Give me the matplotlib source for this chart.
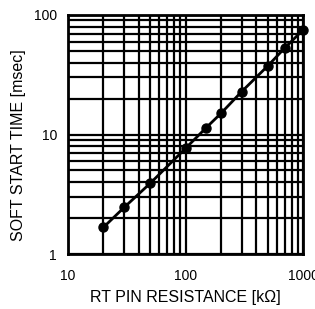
import numpy as np
import matplotlib
matplotlib.use('Agg')
import matplotlib.pyplot as plt
import matplotlib.ticker as ticker

plt.rcParams['font.family'] = ['Liberation Sans', 'DejaVu Sans']

# RT pin resistance [kOhm] vs soft start time [msec]
resistance = [20, 30, 50, 100, 150, 200, 300, 500, 700, 1000]
ss_time = [1.67, 2.45, 3.9, 7.65, 11.4, 15.0, 22.8, 37.4, 53.0, 75.0]

fig = plt.figure(figsize=(3.15, 3.09), dpi=100)
ax = fig.add_axes([68/315, 55/309, 235/315, 239/309])

ax.plot(resistance, ss_time, color='black', lw=2.0, marker='o', ms=6.5, clip_on=False, zorder=5)

ax.set_xscale('log')
ax.set_yscale('log')
ax.set_xlim(10, 1000)
ax.set_ylim(1, 100)

ax.xaxis.set_major_locator(ticker.FixedLocator([10, 100, 1000]))
ax.xaxis.set_major_formatter(ticker.FixedFormatter(['10', '100', '1000']))
ax.yaxis.set_major_locator(ticker.FixedLocator([1, 10, 100]))
ax.yaxis.set_major_formatter(ticker.FixedFormatter(['1', '10', '100']))
ax.xaxis.set_minor_locator(ticker.LogLocator(base=10, subs=np.arange(2, 10)))
ax.yaxis.set_minor_locator(ticker.LogLocator(base=10, subs=np.arange(2, 10)))
ax.xaxis.set_minor_formatter(ticker.NullFormatter())
ax.yaxis.set_minor_formatter(ticker.NullFormatter())

ax.grid(True, which='both', color='black', lw=1.6)
ax.tick_params(which='both', length=0, labelsize=10)
ax.tick_params(axis='x', pad=11)
ax.tick_params(axis='y', pad=8)
for s in ax.spines.values():
    s.set_linewidth(2.0)

ax.set_xlabel('RT PIN RESISTANCE [k\u03a9]', fontsize=11.5, labelpad=5)
ax.set_ylabel('SOFT START TIME [msec]', fontsize=11.5, va='center')
ax.yaxis.set_label_coords(-49/235, 109/239)

fig.savefig('out.png', dpi=100)
